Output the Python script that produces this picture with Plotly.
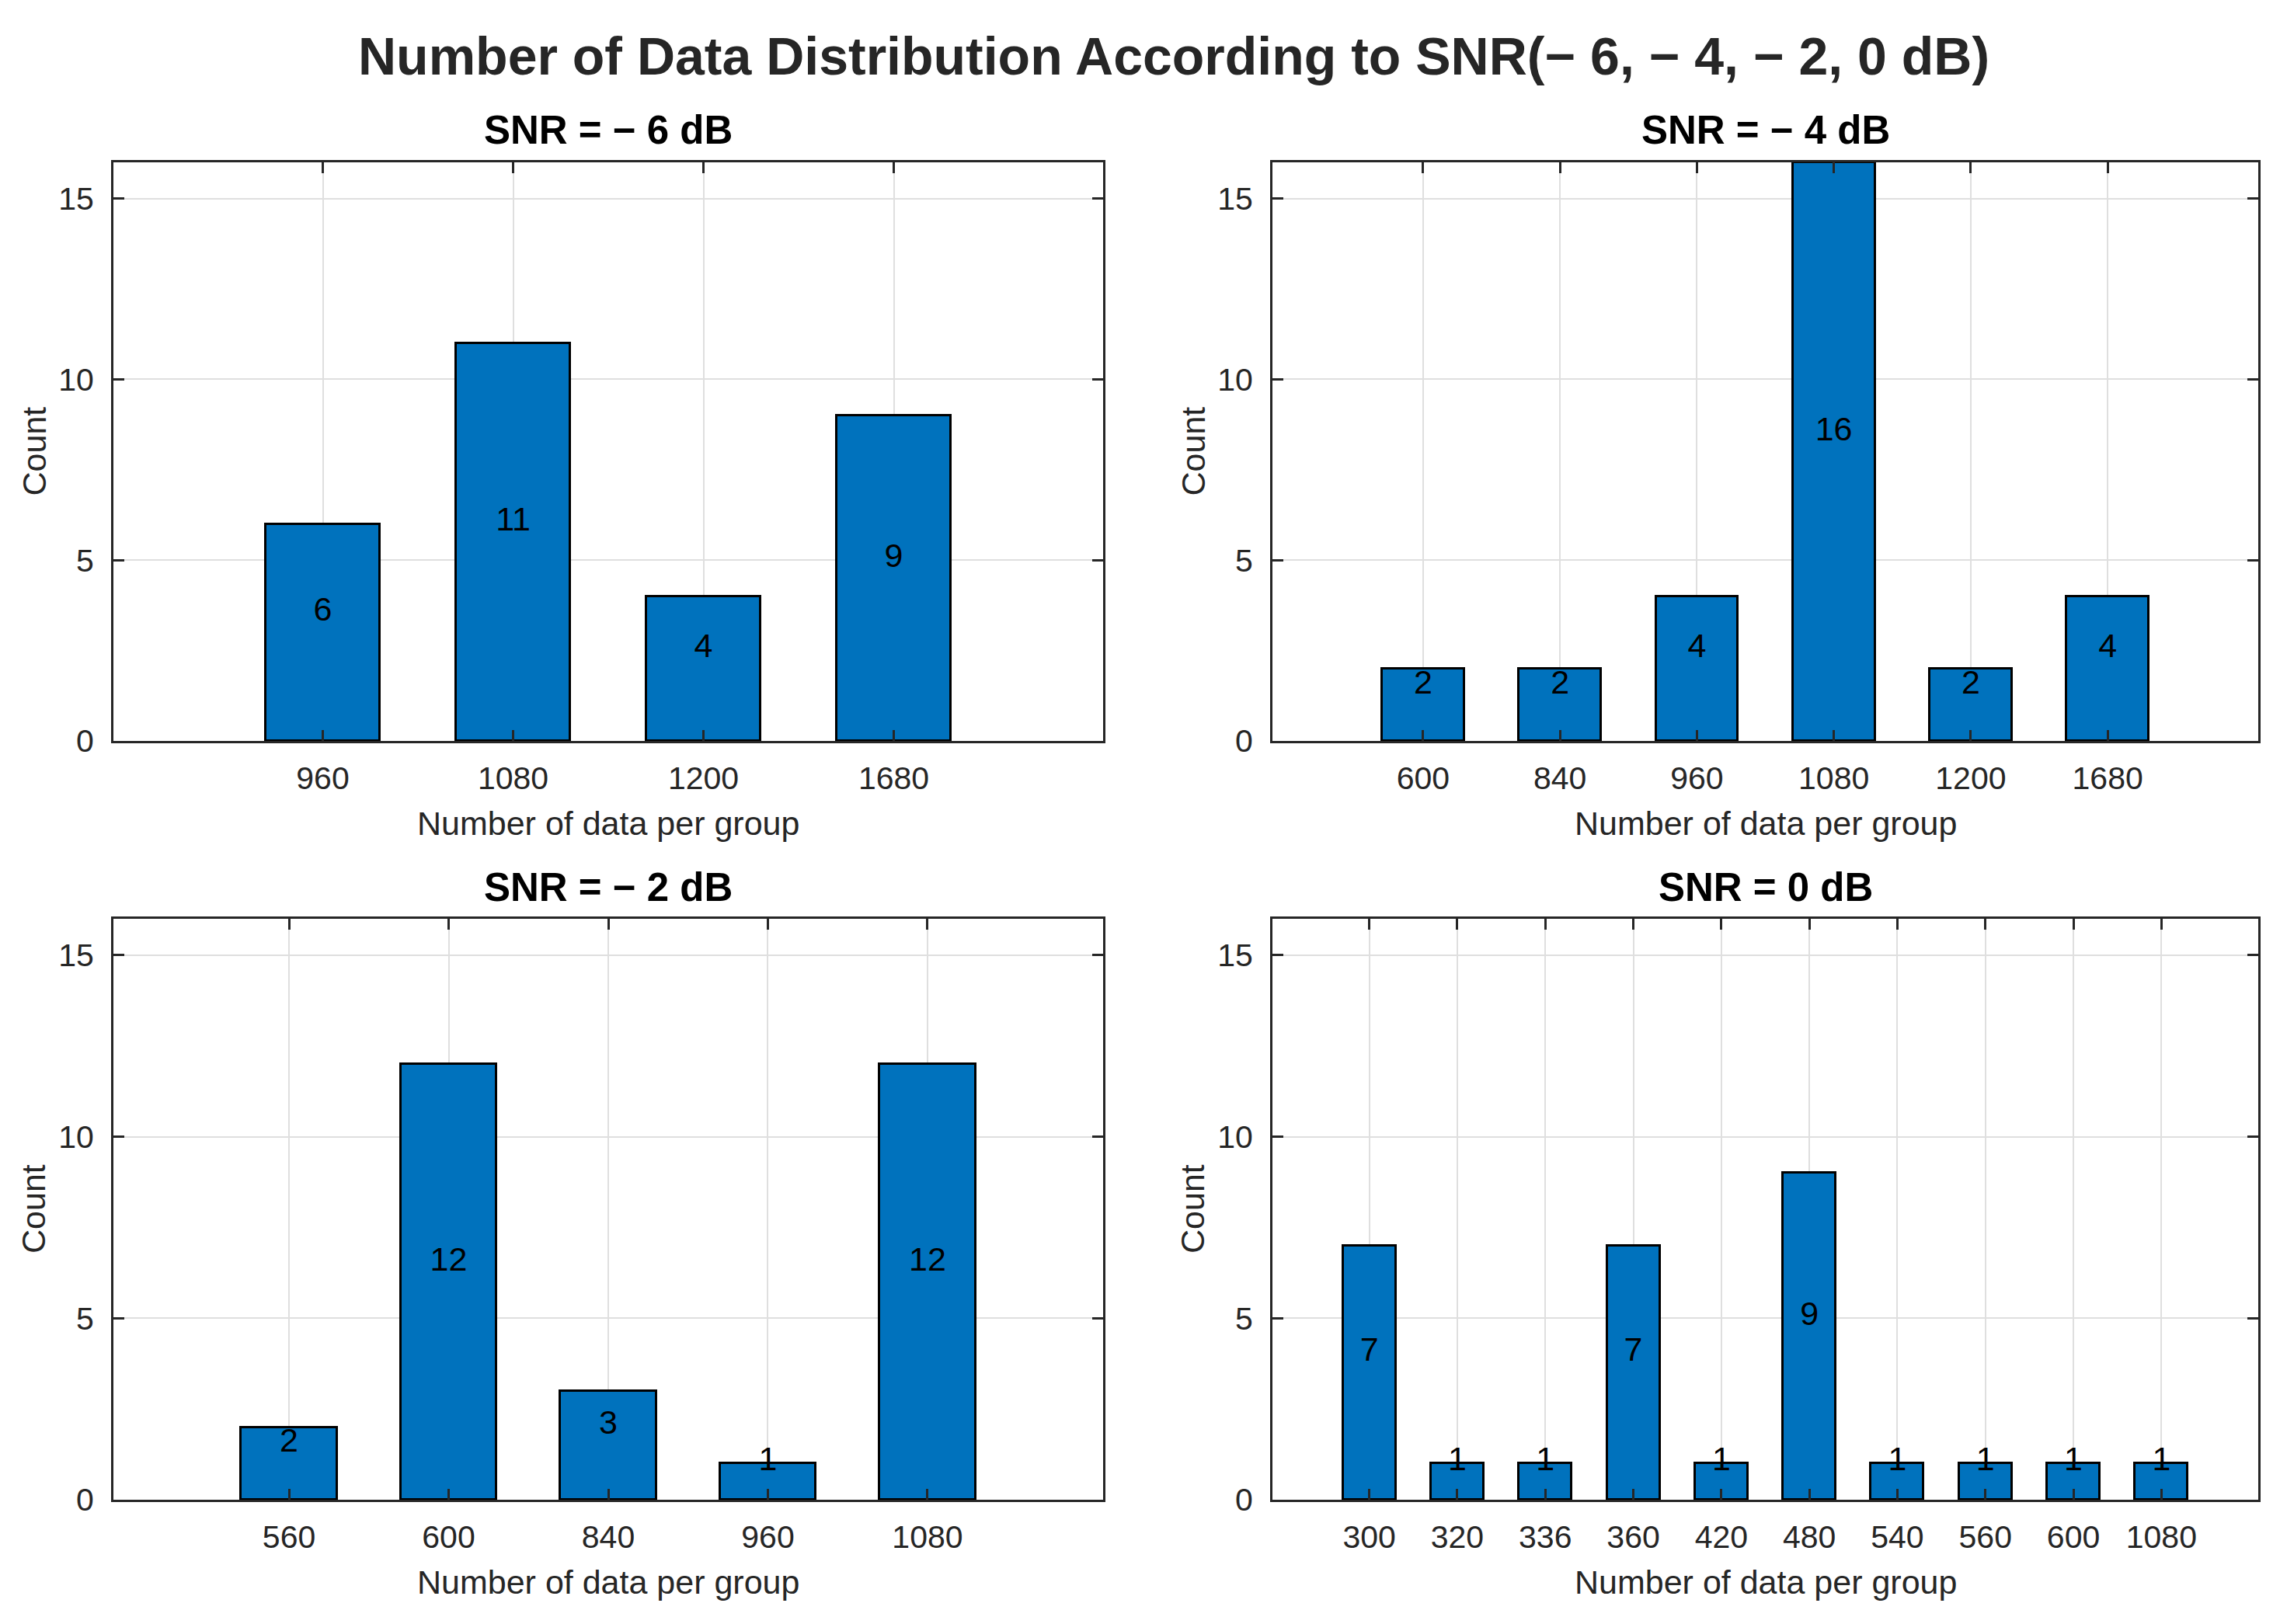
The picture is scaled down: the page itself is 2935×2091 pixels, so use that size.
import plotly.graph_objects as go

# ---- data ----
cats_m6 = ["960", "1080", "1200", "1680"]
counts_m6 = [6, 11, 4, 9]
cats_m4 = ["600", "840", "960", "1080", "1200", "1680"]
counts_m4 = [2, 2, 4, 16, 2, 4]
cats_m2 = ["560", "600", "840", "960", "1080"]
counts_m2 = [2, 12, 3, 1, 12]
cats_0 = ["300", "320", "336", "360", "420", "480", "540", "560", "600", "1080"]
counts_0 = [7, 1, 1, 7, 1, 9, 1, 1, 1, 1]
titles = ["SNR = − 6 dB", "SNR = − 4 dB", "SNR = − 2 dB", "SNR = 0 dB"]
main_title = "Number of Data Distribution According to SNR(− 6, − 4, − 2, 0 dB)"

W, H = 2935, 2091
FONT = "Liberation Sans, Arial, Helvetica, sans-serif"
AX = "#262626"
BLUE = "#0072BD"

panels = [
    (cats_m6, counts_m6, (146, 1420), (209, 954)),
    (cats_m4, counts_m4, (1638, 2907), (209, 954)),
    (cats_m2, counts_m2, (146, 1420), (1183, 1931)),
    (cats_0, counts_0, (1638, 2907), (1183, 1931)),
]

fig = go.Figure()
annotations = []
layout = {}
for i, (cats, vals, (x0, x1), (y0, y1)) in enumerate(panels):
    n = i + 1
    xa = "x" if n == 1 else f"x{n}"
    ya = "y" if n == 1 else f"y{n}"
    fig.add_trace(go.Bar(
        x=cats, y=vals, width=0.6, xaxis=xa, yaxis=ya,
        marker=dict(color=BLUE, line=dict(color="#000000", width=3)),
        showlegend=False, hoverinfo="x+y",
    ))
    fig.add_trace(go.Scatter(
        x=cats, y=[v / 2 + 0.55 for v in vals], mode="text",
        text=[str(v) for v in vals], textposition="middle center",
        textfont=dict(family=FONT, size=43, color="#000000"),
        xaxis=xa, yaxis=ya, showlegend=False, hoverinfo="skip",
    ))
    common = dict(showline=True, linecolor=AX, linewidth=3, mirror="ticks",
                  ticks="inside", ticklen=14, tickwidth=3, tickcolor=AX,
                  showgrid=True, gridcolor="#dfdfdf", gridwidth=2,
                  zeroline=False, automargin=False,
                  tickfont=dict(family=FONT, size=41, color=AX))
    layout["xaxis" if n == 1 else f"xaxis{n}"] = dict(
        common, type="category", categoryorder="array", categoryarray=cats,
        range=[-1.1, len(cats) - 1 + 1.1],
        domain=[x0 / W, x1 / W], anchor=ya, ticklabelstandoff=10)
    layout["yaxis" if n == 1 else f"yaxis{n}"] = dict(
        common, range=[0, 16], tickvals=[0, 5, 10, 15],
        domain=[1 - y1 / H, 1 - y0 / H], anchor=xa, ticklabelstandoff=14)
    cx = (x0 + x1) / 2 / W
    # subplot title
    annotations.append(dict(text=f"<b>{titles[i]}</b>", x=cx, y=1 - (y0 - 41) / H,
                            xref="paper", yref="paper", xanchor="center", yanchor="middle",
                            showarrow=False, font=dict(family=FONT, size=51, color="#000000")))
    # x axis title
    annotations.append(dict(text="Number of data per group", x=cx, y=1 - (y1 + 106) / H,
                            xref="paper", yref="paper", xanchor="center", yanchor="middle",
                            showarrow=False, font=dict(family=FONT, size=43, color=AX)))
    # y axis title
    annotations.append(dict(text="Count", x=(x0 - 103) / W, y=1 - (y0 + y1) / 2 / H,
                            xref="paper", yref="paper", xanchor="center", yanchor="middle",
                            textangle=-90, showarrow=False,
                            font=dict(family=FONT, size=43, color=AX)))

annotations.append(dict(text=f"<b>{main_title}</b>", x=1511 / W, y=1 - 72 / H,
                        xref="paper", yref="paper", xanchor="center", yanchor="middle",
                        showarrow=False, font=dict(family=FONT, size=68, color=AX)))

fig.update_layout(
    width=W, height=H, margin=dict(l=0, r=0, t=0, b=0, autoexpand=False),
    paper_bgcolor="white", plot_bgcolor="white",
    bargap=0, annotations=annotations, **layout,
)
fig.write_html("out.html", config={"displayModeBar": False},
               post_script="document.body.style.margin='0';document.body.style.padding='0';")
